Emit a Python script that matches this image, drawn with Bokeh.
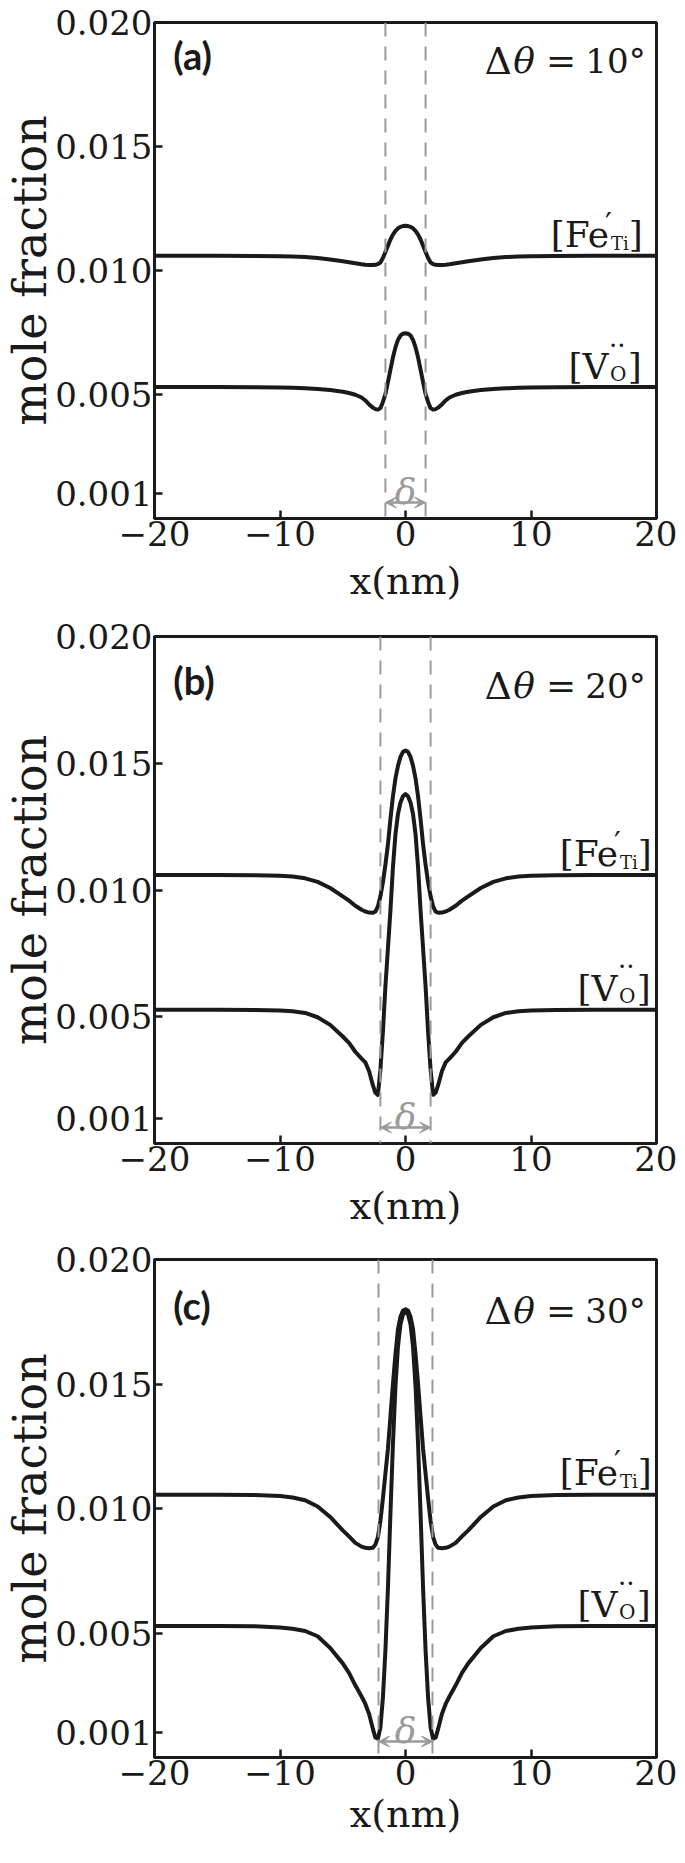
from bokeh.plotting import figure
from bokeh.models import Span, Label, Arrow, VeeHead, FixedTicker, PrintfTickFormatter
from bokeh.layouts import column
from bokeh.embed import file_html
from bokeh.resources import INLINE

# ---------------- data ----------------
x_nm = [-20, -15, -12, -10, -9, -8, -7, -6, -5, -4.5, -4, -3.5, -3.2, -2.9, -2.6, -2.4, -2.2, -2.0,
        -1.8, -1.6, -1.4, -1.2, -1.0, -0.8, -0.6, -0.4, -0.2, 0,
        0.2, 0.4, 0.6, 0.8, 1.0, 1.2, 1.4, 1.6, 1.8, 2.0, 2.2, 2.4, 2.6, 2.9, 3.2, 3.5, 4, 4.5, 5,
        6, 7, 8, 9, 10, 12, 15, 20]

fe_a = [0.01059, 0.01059, 0.01058, 0.01057, 0.01056, 0.01054, 0.01050, 0.01044, 0.01037, 0.01033,
        0.01029, 0.01025, 0.01023, 0.01022, 0.01022, 0.01023, 0.01026, 0.01032, 0.01050, 0.01075,
        0.01100, 0.01125, 0.01145, 0.01160, 0.01170, 0.01176, 0.01179, 0.01180,
        0.01179, 0.01176, 0.01170, 0.01160, 0.01145, 0.01125, 0.01100, 0.01075, 0.01050, 0.01032,
        0.01026, 0.01023, 0.01022, 0.01022, 0.01023, 0.01025, 0.01029, 0.01033, 0.01037, 0.01044,
        0.01050, 0.01054, 0.01056, 0.01057, 0.01058, 0.01059, 0.01059]
v_a = [0.00530, 0.00530, 0.00529, 0.00528, 0.00527, 0.00525, 0.00522, 0.00518, 0.00511, 0.00506,
       0.00499, 0.00488, 0.00476, 0.00460, 0.00447, 0.00441, 0.00439, 0.00445, 0.00470, 0.00502,
       0.00550, 0.00600, 0.00650, 0.00690, 0.00720, 0.00738, 0.00745, 0.00747,
       0.00745, 0.00738, 0.00720, 0.00690, 0.00650, 0.00600, 0.00550, 0.00502, 0.00470, 0.00445,
       0.00439, 0.00441, 0.00447, 0.00460, 0.00476, 0.00488, 0.00499, 0.00506, 0.00511, 0.00518,
       0.00522, 0.00525, 0.00527, 0.00528, 0.00529, 0.00530, 0.00530]
fe_b = [0.01059, 0.01059, 0.01058, 0.01056, 0.01053, 0.01046, 0.01032, 0.01008, 0.00975, 0.00958,
        0.00938, 0.00922, 0.00915, 0.00911, 0.00910, 0.00915, 0.00935, 0.00975, 0.01030, 0.01100,
        0.01180, 0.01280, 0.01370, 0.01440, 0.01490, 0.01525, 0.01545, 0.01550,
        0.01545, 0.01525, 0.01490, 0.01440, 0.01370, 0.01280, 0.01180, 0.01100, 0.01030, 0.00975,
        0.00935, 0.00915, 0.00910, 0.00911, 0.00915, 0.00922, 0.00938, 0.00958, 0.00975, 0.01008,
        0.01032, 0.01046, 0.01053, 0.01056, 0.01058, 0.01059, 0.01059]
v_b = [0.00528, 0.00528, 0.00527, 0.00525, 0.00522, 0.00515, 0.00498, 0.00468, 0.00422, 0.00397,
       0.00362, 0.00335, 0.00320, 0.00285, 0.00230, 0.00200, 0.00192, 0.00290, 0.00440, 0.00620,
       0.00770, 0.00920, 0.01090, 0.01220, 0.01300, 0.01345, 0.01370, 0.01378,
       0.01370, 0.01345, 0.01300, 0.01220, 0.01090, 0.00920, 0.00770, 0.00620, 0.00440, 0.00290,
       0.00192, 0.00200, 0.00230, 0.00285, 0.00320, 0.00335, 0.00362, 0.00397, 0.00422, 0.00468,
       0.00498, 0.00515, 0.00522, 0.00525, 0.00527, 0.00528, 0.00528]
fe_c = [0.01055, 0.01055, 0.01054, 0.01050, 0.01044, 0.01033, 0.01008, 0.00966, 0.00912, 0.00888,
        0.00862, 0.00847, 0.00842, 0.00840, 0.00842, 0.00855, 0.00885, 0.00950, 0.01040, 0.01140,
        0.01240, 0.01370, 0.01500, 0.01620, 0.01720, 0.01770, 0.01795, 0.01800,
        0.01795, 0.01770, 0.01720, 0.01620, 0.01500, 0.01370, 0.01240, 0.01140, 0.01040, 0.00950,
        0.00885, 0.00855, 0.00842, 0.00840, 0.00842, 0.00847, 0.00862, 0.00888, 0.00912, 0.00966,
        0.01008, 0.01033, 0.01044, 0.01050, 0.01054, 0.01055, 0.01055]
v_c = [0.00528, 0.00528, 0.00527, 0.00522, 0.00517, 0.00508, 0.00487, 0.00440, 0.00378, 0.00340,
       0.00290, 0.00245, 0.00215, 0.00175, 0.00115, 0.00080, 0.00075, 0.00120, 0.00240, 0.00430,
       0.00680, 0.00980, 0.01260, 0.01490, 0.01650, 0.01740, 0.01780, 0.01790,
       0.01780, 0.01740, 0.01650, 0.01490, 0.01260, 0.00980, 0.00680, 0.00430, 0.00240, 0.00120,
       0.00075, 0.00080, 0.00115, 0.00175, 0.00215, 0.00245, 0.00290, 0.00340, 0.00378, 0.00440,
       0.00487, 0.00508, 0.00517, 0.00522, 0.00527, 0.00528, 0.00528]

panel_tags = ["(a)", "(b)", "(c)"]
misorientation_deg = [10, 20, 30]
delta_half_nm = [1.6, 2.0, 2.15]
fe_series = [fe_a, fe_b, fe_c]
v_series = [v_a, v_b, v_c]

x_ticks = [-20, -10, 0, 10, 20]
x_tick_labels = ["\u221220", "\u221210", "0", "10", "20"]
y_ticks = [0.001, 0.005, 0.010, 0.015, 0.020]

# ---------------- style / layout ----------------
INK = "#1a1a1a"
GRAY = "#9a9a9a"
SERIF = "DejaVu Serif"
SANS = "Lato"
FRAME_LEFT = 156      # page x of the plot frame
FW = 508              # frame width
W = 677

# (reference frame top, top border, frame height, bottom border, x-title standoff)
panels = [(18.5, 22, 496, 96, 10), (643.5, 22, 507, 96, 10), (1268.5, 20, 498, 90, 4)]
fig_tops = [8, 622, 1247]


def add_text(p, text, x, y, size, font=SERIF, align="left", baseline="alphabetic",
             style="normal", color=INK):
    p.add_layout(Label(x=x, y=y, text=text, text_font=font, text_font_size=f"{size}px",
                       text_align=align, text_baseline=baseline, text_font_style=style,
                       text_color=color))


def make_panel(i):
    ref_top, BT, FH, BB, xs = panels[i]
    ft = fig_tops[i] + BT        # page y of frame top
    H = BT + FH + BB

    def Xp(px):
        return -20 + (px - FRAME_LEFT) * 40.0 / FW

    def Yp(py):
        return 0.02 * (1 - (py - ft) / FH)

    def lab(text, px, py, size, **kw):
        add_text(p, text, Xp(px), Yp(py), size, **kw)

    bl = FRAME_LEFT - 8
    p = figure(width=W, height=H, x_range=(-20, 20), y_range=(0, 0.02),
               output_backend="svg", toolbar_location=None, title=None,
               min_border_left=bl, min_border_right=W - bl - FW,
               min_border_top=BT, min_border_bottom=BB)
    p.grid.visible = False
    p.background_fill_color = "white"
    p.border_fill_color = "white"
    p.outline_line_color = INK
    p.outline_line_width = 3
    for ax in (p.xaxis[0], p.yaxis[0]):
        ax.axis_line_color = INK
        ax.axis_line_width = 3
        ax.major_tick_in = 8
        ax.major_tick_out = 0
        ax.major_tick_line_width = 2.5
        ax.major_tick_line_color = INK
        ax.minor_tick_line_color = None
        ax.major_label_text_font = SERIF
        ax.major_label_text_font_size = "34px"
        ax.major_label_text_color = INK
        ax.major_label_standoff = 2
        ax.axis_label_text_font = SERIF
        ax.axis_label_text_font_style = "normal"
        ax.axis_label_text_color = INK
    p.xaxis.ticker = FixedTicker(ticks=x_ticks)
    p.xaxis.major_label_overrides = dict(zip(x_ticks, x_tick_labels))
    p.xaxis.axis_label = "x(nm)"
    p.xaxis.axis_label_text_font_size = "38px"
    p.xaxis.axis_label_standoff = xs
    p.yaxis.ticker = FixedTicker(ticks=y_ticks)
    p.yaxis.formatter = PrintfTickFormatter(format="%.3f")
    p.yaxis.axis_label = "mole fraction"
    p.yaxis.axis_label_text_font_size = "46px"
    p.yaxis.axis_label_standoff = -5

    d = delta_half_nm[i]
    for loc in (-d, d):
        p.add_layout(Span(location=loc, dimension="height", line_color=GRAY,
                          line_width=2, line_dash="14 10"))

    p.line(x_nm, fe_series[i], line_color=INK, line_width=4, line_join="round")
    p.line(x_nm, v_series[i], line_color=INK, line_width=4, line_join="round")

    # delta arrow between the dashed lines
    fb = ft + FH
    ya = Yp(fb - 16)
    p.add_layout(Arrow(x_start=-d, y_start=ya, x_end=d, y_end=ya,
                       line_color=GRAY, line_width=2.5,
                       start=VeeHead(size=11, fill_color=GRAY, line_color=GRAY, line_width=1),
                       end=VeeHead(size=11, fill_color=GRAY, line_color=GRAY, line_width=1)))
    add_text(p, "\u03b4", 0, Yp(fb - 27), 36, align="center", style="italic", color=GRAY)

    # panel tag and misorientation angle
    lab(panel_tags[i], 175, ref_top + 43.5, 38, font=SANS, baseline="middle", style="bold")
    yb = ref_top + 49.5
    lab("\u0394", 490, yb, 38)
    lab("\u03b8", 519, yb, 36, style="italic")
    lab("=", 567.5, yb, 36, align="center")
    lab(f"{misorientation_deg[i]}\u00b0", 653, yb, 34, align="right")

    # species labels (placed relative to the frame)
    s = 0 if i == 0 else 9
    k = FH / 507.5

    def sy(r):
        return ft + r * k

    lab("[Fe", 557 + s, sy(217), 36)
    lab("\u2032", 612 + s, sy(206), 30)
    lab("Ti", 618 + s, sy(226.5), 18)
    lab("]", 636 + s, sy(217), 36)

    lab("[V", 575 + s, sy(352), 36)
    lab("\u00b7\u00b7", 616 + s, sy(330), 26)
    lab("O", 617 + s, sy(359.5), 20)
    lab("]", 635 + s, sy(352), 36)

    return p


layout = column(*[make_panel(i) for i in range(3)])
open("out.html", "w").write(file_html(layout, INLINE))
